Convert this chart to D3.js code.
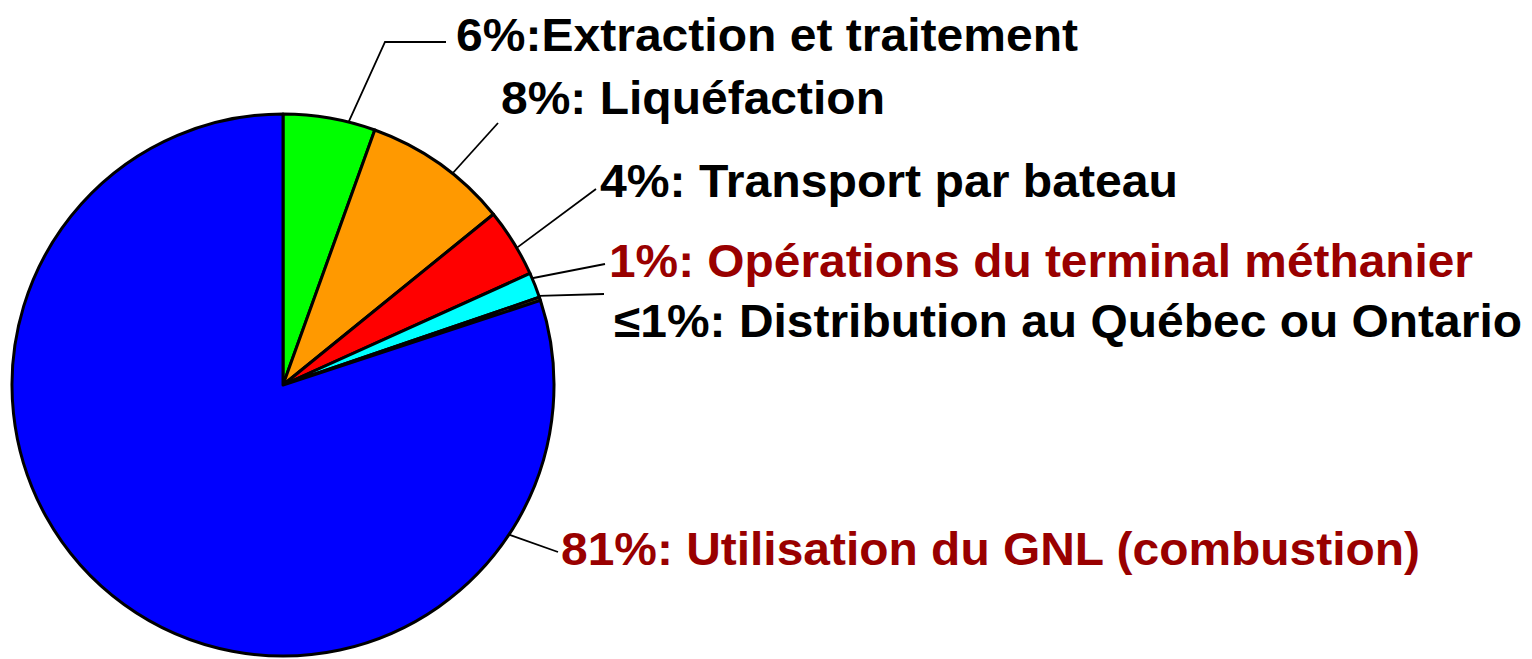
<!doctype html>
<html>
  <head>
    <script src="https://cdnjs.cloudflare.com/ajax/libs/d3/7.8.5/d3.min.js"></script>
    <style>
      body { margin: 0; background: #fff; }
      path.slice { stroke: #000; stroke-width: 3; stroke-linejoin: round; }
      path.leader { fill: none; stroke: #000; stroke-width: 1.8; }
      text.label { font-family: "Liberation Sans", Arial, sans-serif; font-weight: bold; font-size: 46px; }
    </style>
  </head>
  <body>
    <svg id="chart" width="1532" height="659"></svg>
    <script>
      // slices, clockwise from 12 o'clock
      var categories = ["extraction", "liquefaction", "bateau", "terminal", "distribution", "combustion"];
      var values = [5.5, 8.65, 4.1, 1.5, 0.2, 80.05];
      var labels = [
        "6%:Extraction et traitement",
        "8%: Liquéfaction",
        "4%: Transport par bateau",
        "1%: Opérations du terminal méthanier",
        "\u22641%: Distribution au Québec ou Ontario",
        "81%: Utilisation du GNL (combustion)"
      ];
      var sliceColors = ["#00ff00", "#ff9900", "#ff0000", "#00ffff", "#ffff00", "#0000ff"];
      var labelColors = ["#000", "#000", "#000", "#990000", "#000", "#990000"];

      // label layout: anchor angle on the rim (deg), elbow/end points, text pos and width
      var layout = [
        { a: 14,    pts: [[385, 42], [446, 42]],  x: 456, y: 51,  w: 622 },
        { a: 38.7,  pts: [[498, 123]],            x: 501, y: 114, w: 384 },
        { a: 59.6,  pts: [[596, 189]],            x: 600, y: 197, w: 578 },
        { a: 66.8,  pts: [[605, 264]],            x: 609, y: 277, w: 864 },
        { a: 70.8,  pts: [[604, 294]],            x: 614, y: 337, w: 908 },
        { a: 123.5, pts: [[558, 552]],            x: 561, y: 565, w: 859 }
      ];

      var cx = 283, cy = 385, r = 271;
      var svg = d3.select("#chart");
      var color = d3.scaleOrdinal().domain(categories).range(sliceColors);

      var pie = d3.pie().sort(null).value(d => d.v);
      var arc = d3.arc().innerRadius(0).outerRadius(r);
      var slices = pie(categories.map((c, i) => ({ c: c, v: values[i] })));

      var g = svg.append("g").attr("transform", "translate(" + cx + "," + cy + ")");
      g.selectAll("path.slice")
        .data(slices)
        .enter()
        .append("path")
          .attr("class", "slice")
          .attr("d", arc)
          .attr("fill", d => color(d.data.c));

      // leader lines
      var line = d3.line();
      layout.forEach((l, i) => {
        var t = l.a * Math.PI / 180;
        var start = [cx + r * Math.sin(t), cy - r * Math.cos(t)];
        svg.append("path")
          .attr("class", "leader")
          .attr("d", line([start].concat(l.pts)));
      });

      svg.selectAll("text.label")
        .data(labels)
        .enter()
        .append("text")
          .attr("class", "label")
          .attr("x", (d, i) => layout[i].x)
          .attr("y", (d, i) => layout[i].y)
          .attr("fill", (d, i) => labelColors[i])
          .attr("textLength", (d, i) => layout[i].w)
          .attr("lengthAdjust", "spacingAndGlyphs")
          .text(d => d);
    </script>
  </body>
</html>
